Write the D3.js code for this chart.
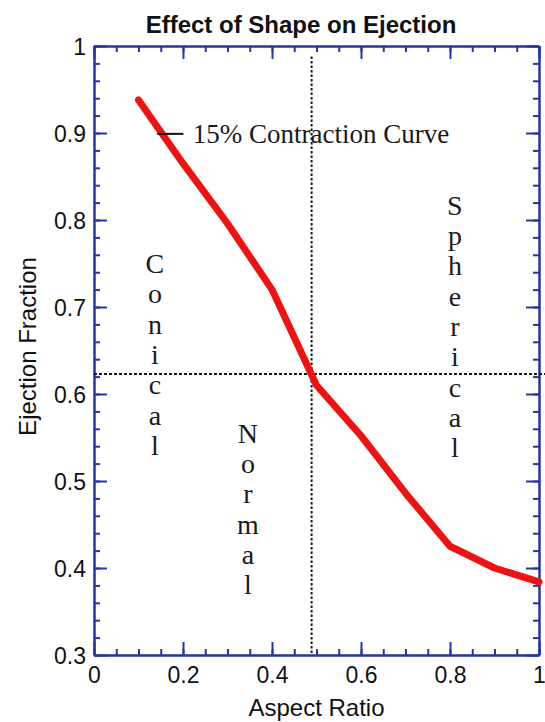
<!DOCTYPE html>
<html>
<head>
<meta charset="utf-8">
<script src="https://cdn.jsdelivr.net/npm/d3@7"></script>
<style>
  body { margin: 0; background: #fff; }
  svg { display: block; }
</style>
</head>
<body>
<div id="chart"></div>
<script>
// data
const aspectRatio = [0.1, 0.2, 0.3, 0.4, 0.5, 0.6, 0.7, 0.8, 0.9, 1.0];
const ejectionFraction = [0.938, 0.865, 0.796, 0.72, 0.61, 0.552, 0.486, 0.425, 0.40, 0.384];

const xTicks = [0, 0.2, 0.4, 0.6, 0.8, 1];
const xTickLabels = ["0", "0.2", "0.4", "0.6", "0.8", "1"];
const yTicks = [0.3, 0.4, 0.5, 0.6, 0.7, 0.8, 0.9, 1];
const yTickLabels = ["0.3", "0.4", "0.5", "0.6", "0.7", "0.8", "0.9", "1"];

const refX = 0.489;   // vertical dotted line
const refY = 0.623;   // horizontal dotted line

const regionWords = ["Conical", "Normal", "Spherical"];
const curveLabel = "15% Contraction Curve";

const margin = { top: 46, right: 6, bottom: 67, left: 94 },
    width = 545 - margin.left - margin.right,
    height = 722 - margin.top - margin.bottom;

const axisColor = "#2436a6";
const sans = "'Liberation Sans', Arial, sans-serif";
const serif = "'Liberation Serif', 'Times New Roman', serif";

const svg = d3.select("#chart")
    .append("svg")
    .attr("width", 545)
    .attr("height", 722);

const g = svg.append("g")
    .attr("transform", `translate(${margin.left},${margin.top})`);

const x = d3.scaleLinear().domain([0, 1]).range([0, width]);
const y = d3.scaleLinear().domain([0.3, 1]).range([height, 0]);

const xMinor = d3.range(0, 1.0001, 0.05).map(v => +v.toFixed(2));
const yMinor = d3.range(0.3, 1.0001, 0.02).map(v => +v.toFixed(2));

// inward ticks on all four sides
function drawAxis(axisFn, scale, tx, ty, major, minor, labels, dir) {
    const minorG = g.append("g")
        .attr("transform", `translate(${tx},${ty})`)
        .call(axisFn(scale).tickValues(minor).tickSize(-6).tickSizeOuter(0).tickFormat(""));
    const majorG = g.append("g")
        .attr("transform", `translate(${tx},${ty})`)
        .call(axisFn(scale).tickValues(major).tickSize(-13).tickSizeOuter(0)
            .tickFormat(labels ? (d, i) => labels[i] : ""));
    [minorG, majorG].forEach(a => {
        a.select(".domain").attr("stroke", axisColor).attr("stroke-width", 2);
        a.selectAll(".tick line").attr("stroke", axisColor).attr("stroke-width", 2);
    });
    majorG.selectAll(".tick text")
        .attr("fill", "#111")
        .style("font-family", sans)
        .style("font-size", "23px");
    if (dir === "bottom") majorG.selectAll(".tick text").attr("y", 12).attr("dy", "0.71em");
    if (dir === "left") majorG.selectAll(".tick text").attr("x", -8).attr("dy", "0.35em");
}

drawAxis(d3.axisBottom, x, 0, height, xTicks, xMinor, xTickLabels, "bottom");
drawAxis(d3.axisTop, x, 0, 0, xTicks, xMinor, null, "top");
drawAxis(d3.axisLeft, y, 0, 0, yTicks, yMinor, yTickLabels, "left");
drawAxis(d3.axisRight, y, width, 0, yTicks, yMinor, null, "right");

// dotted reference lines
g.append("line")
    .attr("x1", x(refX)).attr("x2", x(refX))
    .attr("y1", y(0.988)).attr("y2", y(0.3))
    .attr("stroke", "#1a1a1a").attr("stroke-width", 2)
    .attr("stroke-dasharray", "2.5,2");
g.append("line")
    .attr("x1", x(0)).attr("x2", x(1.015))
    .attr("y1", y(refY)).attr("y2", y(refY))
    .attr("stroke", "#1a1a1a").attr("stroke-width", 2)
    .attr("stroke-dasharray", "3,2");

// the curve
const line = d3.line()
    .x((d, i) => x(aspectRatio[i]))
    .y(d => y(d));
g.append("path")
    .datum(ejectionFraction)
    .attr("fill", "none")
    .attr("stroke", "#ee1212")
    .attr("stroke-width", 7)
    .attr("stroke-linejoin", "round")
    .attr("stroke-linecap", "round")
    .attr("d", line);

// curve annotation
g.append("line")
    .attr("x1", x(0.142)).attr("x2", x(0.201))
    .attr("y1", y(0.899)).attr("y2", y(0.899))
    .attr("stroke", "#111").attr("stroke-width", 2);
g.append("text")
    .attr("x", x(0.222))
    .attr("y", y(0.889))
    .style("font-family", serif)
    .style("font-size", "27px")
    .attr("fill", "#1a1a1a")
    .text(curveLabel);

// vertical region words, one letter per line
const wordPos = [
    { cx: 0.137, top: 0.739 },
    { cx: 0.346, top: 0.544 },
    { cx: 0.811, top: 0.806 }
];
regionWords.forEach((w, k) => {
    const t = g.append("text")
        .attr("text-anchor", "middle")
        .style("font-family", serif)
        .style("font-size", "28px")
        .attr("fill", "#1a1a1a");
    w.split("").forEach((ch, i) => {
        t.append("tspan")
            .attr("x", x(wordPos[k].cx))
            .attr("y", y(wordPos[k].top) + i * 30.3)
            .text(ch);
    });
});

// titles
svg.append("text")
    .attr("x", 301)
    .attr("y", 33)
    .attr("text-anchor", "middle")
    .style("font-family", sans)
    .style("font-weight", "bold")
    .style("font-size", "24px")
    .attr("fill", "#111")
    .text("Effect of Shape on Ejection");

svg.append("text")
    .attr("x", margin.left + width / 2)
    .attr("y", 716)
    .attr("text-anchor", "middle")
    .style("font-family", sans)
    .style("font-size", "24px")
    .attr("fill", "#111")
    .text("Aspect Ratio");

svg.append("text")
    .attr("transform", `translate(36,${margin.top + height / 2 - 4}) rotate(-90)`)
    .attr("text-anchor", "middle")
    .style("font-family", sans)
    .style("font-size", "24px")
    .attr("fill", "#111")
    .text("Ejection Fraction");
</script>
</body>
</html>
